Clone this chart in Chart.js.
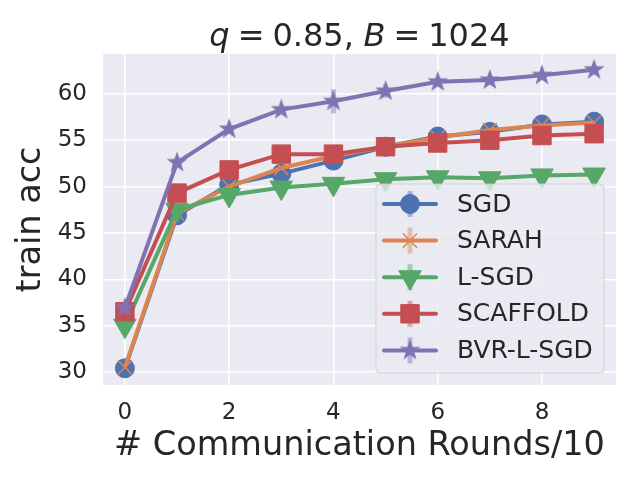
<!DOCTYPE html>
<html>
<head>
<meta charset="utf-8">
<script src="https://cdn.jsdelivr.net/npm/chart.js@4/dist/chart.umd.min.js"></script>
<style>
  html, body { margin: 0; padding: 0; background: #fff; }
  #wrap { width: 640px; height: 480px; }
</style>
</head>
<body>
<div id="wrap"><canvas id="myChart" width="640" height="480"></canvas></div>
<script>
// values
let rounds = [0, 1, 2, 3, 4, 5, 6, 7, 8, 9];
let xTicks = [0, 2, 4, 6, 8];
let yTicks = [30, 35, 40, 45, 50, 55, 60];

let names = ['SGD', 'SARAH', 'L-SGD', 'SCAFFOLD', 'BVR-L-SGD'];
let sgd      = [30.4, 46.9, 50.2, 51.4, 52.8, 54.3, 55.4, 55.9, 56.7, 57.0];
let sarah    = [30.5, 47.1, 50.0, 52.0, 53.3, 54.3, 55.3, 56.1, 56.6, 56.9];
let lsgd     = [35.0, 47.5, 49.1, 49.9, 50.3, 50.8, 51.0, 50.9, 51.2, 51.3];
let scaffold = [36.5, 49.3, 51.8, 53.5, 53.5, 54.3, 54.7, 55.0, 55.5, 55.7];
let bvr      = [36.9, 52.6, 56.2, 58.3, 59.2, 60.3, 61.3, 61.5, 62.0, 62.6];

// error bar half-heights
let sgdErr      = [0.3, 0.4, 0.4, 0.3, 0.3, 0.3, 0.4, 0.3, 0.3, 0.3];
let sarahErr    = [0.3, 0.4, 0.3, 0.3, 0.3, 0.3, 0.3, 0.5, 0.3, 0.3];
let lsgdErr     = [0.3, 0.3, 0.4, 0.3, 0.3, 0.3, 0.3, 0.3, 0.3, 0.3];
let scaffoldErr = [0.3, 0.6, 0.3, 0.3, 0.4, 0.3, 0.3, 0.3, 0.3, 0.3];
let bvrErr      = [0.3, 0.5, 0.4, 0.3, 1.3, 0.7, 0.3, 0.3, 0.3, 0.3];

let colors = ['#4C72B0', '#DD8452', '#55A868', '#C44E52', '#8172B3'];
let faded  = ['rgba(76,114,176,0.45)', 'rgba(221,132,82,0.45)', 'rgba(85,168,104,0.45)',
              'rgba(196,78,82,0.45)', 'rgba(129,114,179,0.45)'];
let textColor = '#262626';

// filled star marker (Chart.js 'star' is only lines)
function starImage(color) {
    let c = document.createElement('canvas');
    c.width = 26; c.height = 26;
    let g = c.getContext('2d');
    g.fillStyle = color;
    g.beginPath();
    for (let k = 0; k < 10; k++) {
        let r = (k % 2 === 0) ? 11 : 4.4;
        let a = -Math.PI / 2 + k * Math.PI / 5;
        let px = 13 + r * Math.cos(a), py = 13 + r * Math.sin(a);
        if (k === 0) g.moveTo(px, py); else g.lineTo(px, py);
    }
    g.closePath();
    g.fill();
    return c;
}

let series = [sgd, sarah, lsgd, scaffold, bvr];
let errors = [sgdErr, sarahErr, lsgdErr, scaffoldErr, bvrErr];
let markers = [
    {pointStyle: 'circle', radius: 9.5, rotation: 0, borderWidth: 1},
    {pointStyle: 'crossRot', radius: 10, rotation: 0, borderWidth: 1.5},
    {pointStyle: 'triangle', radius: 13, rotation: 180, borderWidth: 1},
    {pointStyle: 'rect', radius: 13, rotation: 0, borderWidth: 1},
    {pointStyle: starImage(colors[4]), radius: 11, rotation: 0, borderWidth: 1}
];

let datasets = series.map((vals, i) => ({
    label: names[i],
    data: vals.map((v, j) => ({x: rounds[j], y: v})),
    borderColor: colors[i],
    backgroundColor: colors[i],
    borderWidth: 4,
    tension: 0,
    fill: false,
    pointStyle: markers[i].pointStyle,
    pointRadius: markers[i].radius,
    pointRotation: markers[i].rotation,
    pointBorderWidth: markers[i].borderWidth,
    pointBorderColor: colors[i],
    pointBackgroundColor: colors[i],
    order: series.length - i
}));

const bgPlugin = {
    id: 'bg',
    beforeDraw(chart) {
        let a = chart.chartArea, ctx = chart.ctx;
        ctx.save();
        ctx.fillStyle = '#EAEAF2';
        ctx.fillRect(a.left, a.top, a.right - a.left, a.bottom - a.top);
        ctx.restore();
    }
};

const errPlugin = {
    id: 'errbars',
    beforeDatasetsDraw(chart) {
        let ctx = chart.ctx, xs = chart.scales.x, ys = chart.scales.y;
        ctx.save();
        ctx.lineWidth = 5;
        series.forEach((vals, i) => {
            ctx.strokeStyle = faded[i];
            vals.forEach((v, j) => {
                let px = xs.getPixelForValue(rounds[j]);
                ctx.beginPath();
                ctx.moveTo(px, ys.getPixelForValue(v - errors[i][j]));
                ctx.lineTo(px, ys.getPixelForValue(v + errors[i][j]));
                ctx.stroke();
            });
        });
        ctx.restore();
    }
};

// mathtext-like title: italic symbols, tighter spacing around '='
const titlePlugin = {
    id: 'mathTitle',
    afterDraw(chart) {
        let ctx = chart.ctx, a = chart.chartArea;
        let size = 32, gap = 0.25 * size;
        let parts = [
            ['q', 'italic', gap], ['=', 'normal', gap], ['0.85,', 'normal', 0.3 * size],
            ['B', 'italic', gap], ['=', 'normal', gap], ['1024', 'normal', 0]
        ];
        ctx.save();
        ctx.fillStyle = textColor;
        ctx.textBaseline = 'alphabetic';
        ctx.textAlign = 'left';
        let total = 0;
        parts.forEach(p => {
            ctx.font = p[1] + ' ' + size + 'px "DejaVu Sans"';
            total += ctx.measureText(p[0]).width + p[2];
        });
        let x = (a.left + a.right) / 2 - total / 2;
        parts.forEach(p => {
            ctx.font = p[1] + ' ' + size + 'px "DejaVu Sans"';
            ctx.fillText(p[0], x, 46);
            x += ctx.measureText(p[0]).width + p[2];
        });
        ctx.restore();
    }
};

const legendPlugin = {
    id: 'boxLegend',
    afterDraw(chart) {
        let ctx = chart.ctx;
        let bx = 376, by = 184, bw = 228, bh = 189;
        ctx.save();
        ctx.beginPath();
        ctx.roundRect(bx, by, bw, bh, 4);
        ctx.fillStyle = 'rgba(234,234,242,0.8)';
        ctx.fill();
        ctx.strokeStyle = 'rgba(204,204,204,0.8)';
        ctx.lineWidth = 1;
        ctx.stroke();
        names.forEach((name, i) => {
            let cy = 204 + i * 36.6;
            ctx.strokeStyle = colors[i];
            ctx.lineWidth = 4;
            ctx.lineCap = 'round';
            ctx.beginPath();
            ctx.moveTo(384, cy);
            ctx.lineTo(436, cy);
            ctx.stroke();
            ctx.lineCap = 'butt';
            ctx.strokeStyle = faded[i];
            ctx.lineWidth = 5;
            ctx.beginPath();
            ctx.moveTo(410, cy - 13);
            ctx.lineTo(410, cy + 13);
            ctx.stroke();
            ctx.fillStyle = colors[i];
            ctx.strokeStyle = colors[i];
            ctx.lineWidth = markers[i].borderWidth;
            Chart.helpers.drawPoint(ctx, {
                pointStyle: markers[i].pointStyle,
                radius: markers[i].radius,
                rotation: markers[i].rotation,
                borderWidth: markers[i].borderWidth
            }, 410, cy);
            ctx.fillStyle = textColor;
            ctx.font = '25px "DejaVu Sans"';
            ctx.textAlign = 'left';
            ctx.textBaseline = 'middle';
            ctx.fillText(name, 457, cy + 1);
        });
        ctx.restore();
    }
};

let ctx = document.getElementById('myChart').getContext('2d');
let chart = new Chart(ctx, {
    type: 'line',
    data: { datasets: datasets },
    plugins: [bgPlugin, errPlugin, titlePlugin, legendPlugin],
    options: {
        responsive: false,
        animation: false,
        devicePixelRatio: 1,
        events: [],
        layout: { padding: { top: 54, right: 24, left: 0, bottom: 0 } },
        plugins: {
            legend: { display: false },
            title: { display: false },
            tooltip: { enabled: false }
        },
        scales: {
            x: {
                type: 'linear',
                min: -0.42,
                max: 9.42,
                afterBuildTicks: s => { s.ticks = xTicks.map(v => ({value: v})); },
                afterFit: s => { s.height = 95; },
                grid: { color: '#ffffff', lineWidth: 1.5, drawTicks: false },
                border: { display: false },
                ticks: {
                    color: textColor,
                    padding: 14,
                    font: { family: 'DejaVu Sans', size: 23 },
                    maxRotation: 0
                },
                title: {
                    display: true,
                    text: '# Communication Rounds/10',
                    color: textColor,
                    font: { family: 'DejaVu Sans', size: 33.5 },
                    padding: { top: 0, bottom: 14 }
                }
            },
            y: {
                min: 28.6,
                max: 64.3,
                afterBuildTicks: s => { s.ticks = yTicks.map(v => ({value: v})); },
                afterFit: s => { s.width = 103; },
                grid: { color: '#ffffff', lineWidth: 1.5, drawTicks: false },
                border: { display: false },
                ticks: {
                    color: textColor,
                    padding: 16,
                    font: { family: 'DejaVu Sans', size: 23 }
                },
                title: {
                    display: true,
                    text: 'train acc',
                    color: textColor,
                    font: { family: 'DejaVu Sans', size: 33.5 },
                    padding: { top: 11, bottom: 0 }
                }
            }
        }
    }
});
</script>
</body>
</html>
